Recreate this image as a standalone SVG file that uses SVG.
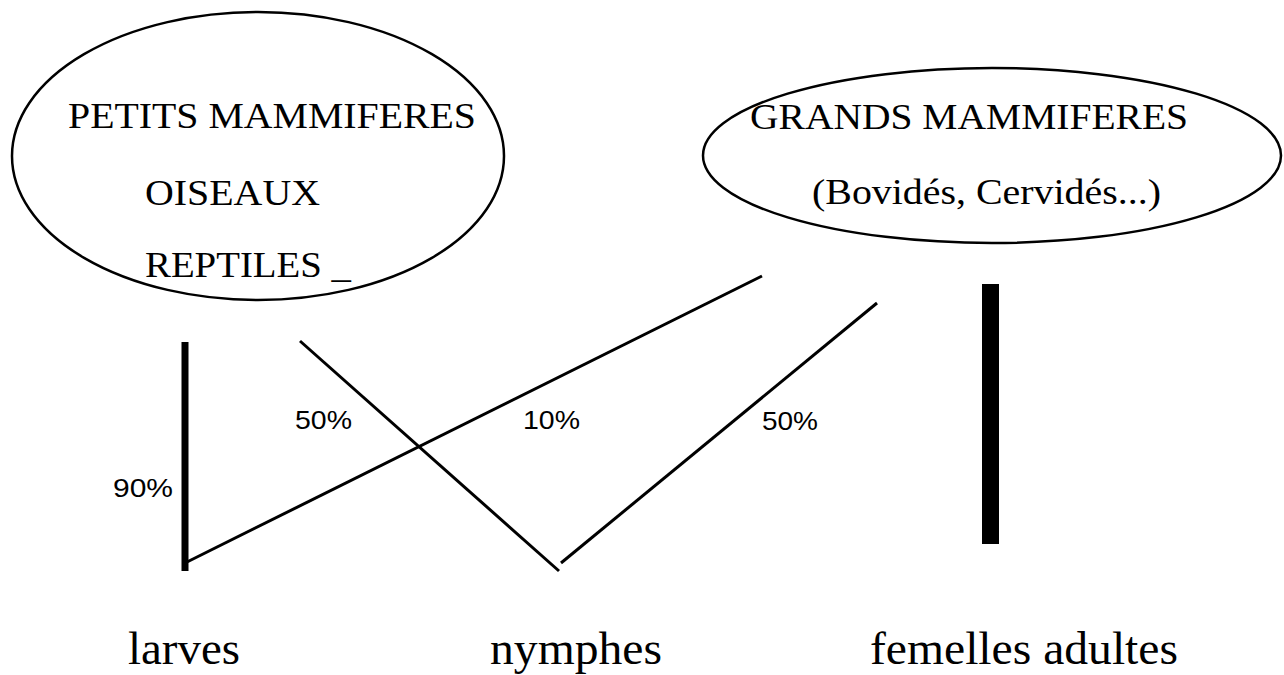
<svg xmlns="http://www.w3.org/2000/svg" width="1284" height="675" viewBox="0 0 1284 675">
<style>
.ell{fill:none;stroke:#000;stroke-width:2.5}
.serif{font-family:"Liberation Serif","Times New Roman",serif;fill:#000}
.big{font-size:35px}
.lab{font-size:46px}
.pct{font-family:"Liberation Sans",Arial,sans-serif;font-size:25px;fill:#000}
.ln{stroke:#000;stroke-width:3;fill:none}
</style>
<rect width="1284" height="675" fill="#fff"/>
<g id="petits">
<ellipse class="ell" cx="258" cy="156" rx="246" ry="144"/>
<text class="serif big" x="68" y="128" textLength="408" lengthAdjust="spacingAndGlyphs">PETITS MAMMIFERES</text>
<text class="serif big" x="145" y="205" textLength="175" lengthAdjust="spacingAndGlyphs">OISEAUX</text>
<text class="serif big" x="145" y="277" textLength="206" lengthAdjust="spacingAndGlyphs">REPTILES _</text>
</g>
<g id="grands">
<ellipse class="ell" cx="992" cy="155.5" rx="289" ry="87.5"/>
<text class="serif big" x="750" y="129" textLength="438" lengthAdjust="spacingAndGlyphs">GRANDS MAMMIFERES</text>
<text class="serif big" x="812" y="204" textLength="349" lengthAdjust="spacingAndGlyphs">(Bovidés, Cervidés...)</text>
</g>
<g id="larves">
<text class="serif lab" x="128" y="664" textLength="112" lengthAdjust="spacingAndGlyphs">larves</text>
</g>
<g id="nymphes">
<text class="serif lab" x="490" y="664" textLength="172" lengthAdjust="spacingAndGlyphs">nymphes</text>
</g>
<g id="femelles">
<text class="serif lab" x="870" y="664" textLength="308" lengthAdjust="spacingAndGlyphs">femelles adultes</text>
</g>
<g id="connectors">
<line x1="185" y1="342" x2="185" y2="571" stroke="#000" stroke-width="7"/>
<line class="ln" x1="187" y1="562" x2="762" y2="276"/>
<line class="ln" x1="300" y1="341" x2="559" y2="571"/>
<line class="ln" x1="561" y1="563" x2="877" y2="303"/>
<rect x="982" y="284" width="17" height="260" fill="#000"/>
<text class="pct" x="113" y="497" textLength="60" lengthAdjust="spacingAndGlyphs">90%</text>
<text class="pct" x="295" y="429" textLength="57" lengthAdjust="spacingAndGlyphs">50%</text>
<text class="pct" x="523" y="429" textLength="57" lengthAdjust="spacingAndGlyphs">10%</text>
<text class="pct" x="762" y="430" textLength="56" lengthAdjust="spacingAndGlyphs">50%</text>
</g>
</svg>
